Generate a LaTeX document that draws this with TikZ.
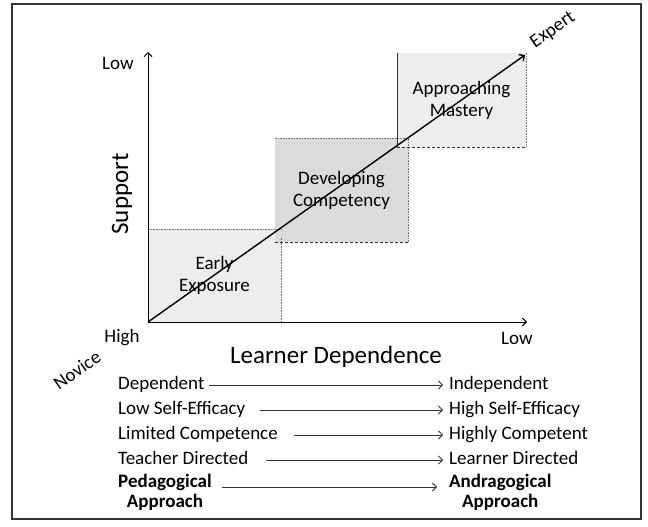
\documentclass[tikz,border=0pt]{standalone}
\usepackage{fontspec}
\setmainfont{Carlito}
\usetikzlibrary{positioning,arrows.meta}

\begin{document}
\begin{tikzpicture}[x=1pt,y=-1pt,
>={Straight Barb[length=4pt,width=8pt]},
stage/.style={rectangle,inner sep=0pt,align=center,fill=gray!14},
lab/.style={inner sep=2pt,font=\fontsize{19}{22}\selectfont},
big/.style={inner sep=2pt,font=\fontsize{25}{28}\selectfont},
item/.style={lab,text height=12pt,text depth=4pt},
flow/.style={->,line width=0.8pt,black!80},
faint/.style={densely dotted,line width=0.6pt,black!55},
firm/.style={densely dashed,line width=0.9pt,black!80}]
\useasboundingbox (0,0) rectangle (648,527);
\draw[line width=1.2pt,black!80] (12,4) rectangle (641,519);

    % the three stages
    \node (early) [stage,minimum width=133pt,minimum height=93pt,lab]
        at (214.5,275.5) {Early\\Exposure};
    \node (dev) [stage,fill=gray!28,minimum width=133pt,minimum height=104pt,lab]
        at (341.5,190) {Developing\\Competency};
    \node (mastery) [stage,minimum width=129pt,minimum height=94pt,lab]
        at (461.5,100) {Approaching\\Mastery};
    \draw[faint] (early.north west) -- (early.north east);
    \draw[faint] (early.north east) ++(0,9) -- (early.south east);
    \draw[faint] (dev.north west) -- (dev.north east) -- (dev.south east);
    \draw[firm] (dev.south west) -- (dev.south east);
    \draw[line width=0.6pt,black!80] (mastery.north west) -- (mastery.south west);
    \draw[faint] (mastery.north east) -- (mastery.south east);
    \draw[firm] (mastery.south west) -- (mastery.south east);

    % axes and the novice-expert line
    \coordinate (O) at (148,322);
    \coordinate (ytop) at (148,52);
    \coordinate (xend) at (527,322);
    \coordinate (tip) at (525,55);
    \draw[->,line width=1pt] (O) -- (ytop);
    \draw[->,line width=1pt] (O) -- (xend);
    \draw[->,line width=1.4pt] (O) -- (tip);

    \node (ylow) [lab] at (118,63) {Low};
    \node (xhigh) [lab] at (122,338) {High};
    \node (xlow) [lab] at (517,338) {Low};
    \node (support) [big,rotate=90] at (122,194) {Support};
    \node (dependence) [big] at (336,357) {Learner Dependence};
    \node (expert) [lab,inner sep=0pt,rotate=35] at (553,30) {Expert};
    \node (novice) [lab,inner sep=0pt,rotate=35] at (77,370) {Novice};

    % what changes along the way
    \node (dep) [item,anchor=base west] at (116,389) {Dependent};
    \node (indep) [item,anchor=base west] at (447,389) {Independent};
    \node (loweff) [item,anchor=base west] at (116,414) {Low Self-Efficacy};
    \node (higheff) [item,anchor=base west] at (447,414) {High Self-Efficacy};
    \node (limcomp) [item,anchor=base west] at (116,439) {Limited Competence};
    \node (highcomp) [item,anchor=base west] at (447,439) {Highly Competent};
    \node (teacher) [item,anchor=base west] at (116,464) {Teacher Directed};
    \node (learner) [item,anchor=base west] at (447,464) {Learner Directed};
    \node (peda) [item,anchor=base west,font=\fontsize{19}{22}\selectfont\bfseries]
        at (116,487) {Pedagogical};
    \node (pedb) [item,below=0pt of peda,font=\fontsize{19}{22}\selectfont\bfseries]
        {Approach};
    \node (andra) [item,anchor=base west,font=\fontsize{19}{22}\selectfont\bfseries]
        at (447,487) {Andragogical};
    \node (andrb) [item,below=0pt of andra,font=\fontsize{19}{22}\selectfont\bfseries]
        {Approach};

    \draw[flow,shorten <=2pt,shorten >=4pt] (dep) -- (indep);
    \draw[flow,shorten <=12pt,shorten >=4pt] (loweff) -- (higheff);
    \draw[flow,shorten <=14pt,shorten >=4pt] (limcomp) -- (highcomp);
    \draw[flow,shorten <=16pt,shorten >=4pt] (teacher) -- (learner);
    \draw[flow,shorten <=8pt,shorten >=10pt] (peda.base east) -- (andra.base west);
\end{tikzpicture}
\end{document}
